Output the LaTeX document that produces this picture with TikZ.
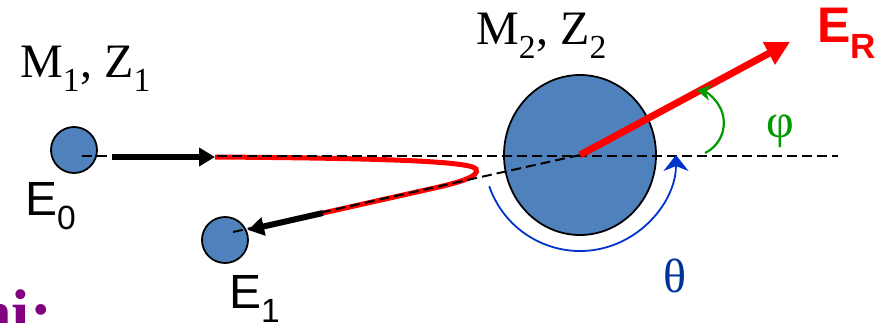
\documentclass[tikz,border=0pt]{standalone}
\usepackage{fontspec}
\setmainfont{Liberation Serif}
\newfontfamily\labelsans{Liberation Sans}
\usetikzlibrary{arrows.meta}
\usetikzlibrary{shapes.geometric}
\definecolor{ballblue}{HTML}{4F81BD}
\definecolor{thetablue}{HTML}{0033CC}
\definecolor{thetatext}{HTML}{003399}
\definecolor{phigreen}{HTML}{009900}
\definecolor{titlepurple}{HTML}{800080}
\newcommand{\labelsize}{\fontsize{48}{50}\selectfont}
\tikzset{
	axisdash/.style={dashed, dash pattern=on 10pt off 5pt, line width=2pt},
	ball/.style={circle, draw, line width=1.8pt, fill=ballblue, minimum size=46pt, inner sep=0pt},
	target/.style={ellipse, draw, line width=1.8pt, fill=ballblue, minimum width=152pt, minimum height=160pt, inner sep=0pt},
	track/.style={red, line width=5pt},
	momentum/.style={line width=6pt, -{Triangle[length=16pt, width=18pt]}},
	recoil/.style={red, line width=7pt, -{Triangle[length=24pt, width=24pt]}},
	massname/.style={anchor=base west, inner sep=0pt, font=\labelsize},
	energy/.style={anchor=base west, inner sep=0pt, font=\labelsans\labelsize}
}

\begin{document}
\begin{tikzpicture}[x=1pt, y=1pt]
	\useasboundingbox (0, 0) rectangle (879, 322);
	% particles
	\node[ball] (proj) at (74, 172) {};
	\node[ball] (scat) at (225, 82) {};
	\node[target] (tgt) at (580, 167) {};
	% path of the projectile
	\coordinate (inA) at (112, 165);
	\coordinate (inB) at (215, 165);
	\coordinate (outA) at (323, 109);
	\coordinate (outB) at (248, 92);
	\draw[track] (inB) .. controls (350, 164) and (470, 162) .. (476, 153)
		.. controls (480, 146) and (462, 140) .. (430, 133) -- (outA);
	\draw[momentum] (inA) -- (inB);
	\draw[momentum] (outA) -- (outB);
	% axes
	\coordinate (axisA) at (82, 166);
	\coordinate (axisB) at (838, 166);
	\coordinate (slantA) at (233, 90);
	\draw[axisdash] (axisA) -- (axisB);
	\draw[axisdash] (slantA) -- (tgt.center);
	\coordinate (erTip) at (790, 280);
	\draw[recoil] (tgt.center) -- (erTip);
	% angles
	\coordinate (phiStart) at (705, 169);
	\draw[phigreen, line width=2.2pt, -{Stealth[length=14pt, width=16pt]}]
		(phiStart) arc[start angle=-64, end angle=79, radius=33.5];
	\draw[thetablue, line width=1.8pt, -{Stealth[length=16pt, width=25pt, inset=5pt]}]
		([shift={(199:96)}]tgt.center) arc[start angle=199, end angle=360, radius=96];
	% labels
	\node[massname] (m1) at (20, 244) {M\textsubscript{1}, Z\textsubscript{1}};
	\node[massname] (m2) at (476, 277) {M\textsubscript{2}, Z\textsubscript{2}};
	\node[energy] (e0) at (25, 107) {E\textsubscript{0}};
	\node[energy] (e1) at (229, 14) {E\textsubscript{1}};
	\node[energy, red, font=\labelsans\bfseries\fontsize{50}{52}\selectfont] (er) at (817, 279) {E\textsubscript{R}};
	\node[thetatext, font=\labelsize, inner sep=0pt] (theta) at (675, 46) {θ};
	\node[phigreen, font=\labelsize, inner sep=0pt] (phi) at (780, 191) {φ};
	\node[anchor=base west, inner sep=0pt, titlepurple, font=\fontsize{66}{70}\selectfont\bfseries] (title) at (-25, -13) {ni:};
\end{tikzpicture}
\end{document}
